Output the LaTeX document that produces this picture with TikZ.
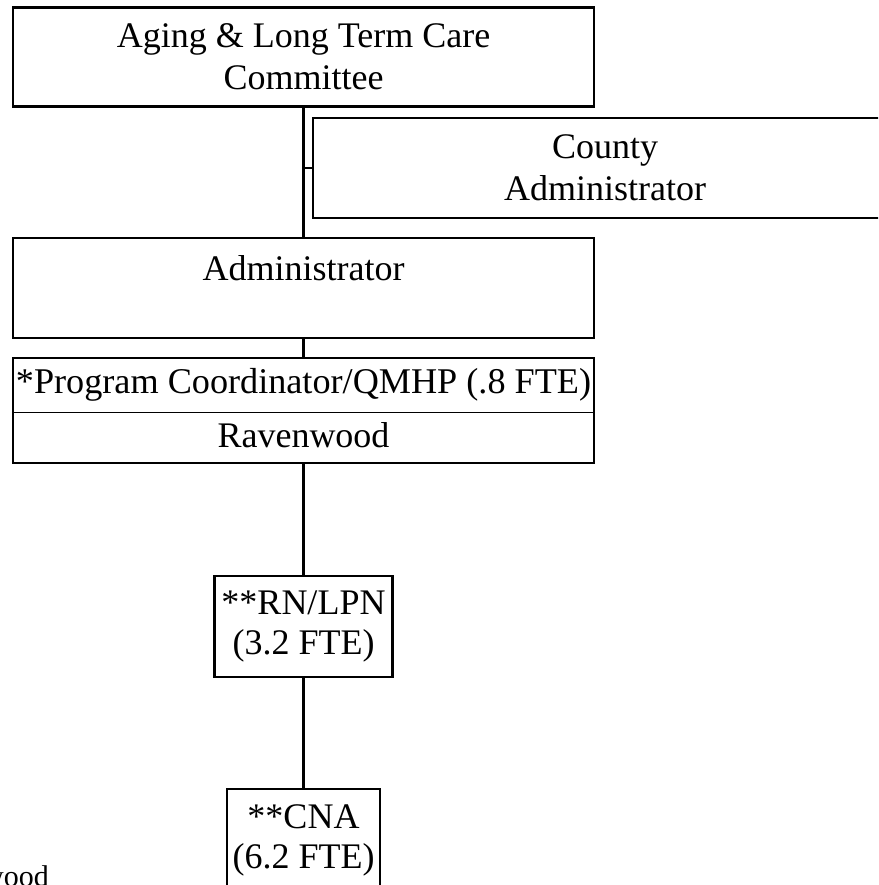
\documentclass[tikz,border=0pt]{standalone}
\usepackage{fontspec}
\setmainfont{Liberation Serif}
\begin{document}
\begin{tikzpicture}[x=1pt, y=-1pt, line width=2.2pt,
    font=\fontsize{36}{42}\selectfont,
    orgbox/.style={draw, rectangle, inner sep=0pt, align=center},
    staffbox/.style={orgbox, font=\fontsize{36}{40}\selectfont}]
      \useasboundingbox (0,0) rectangle (878,885);
      \clip (0,0) rectangle (878,885);

      \node[orgbox, minimum width=581pt, minimum height=99pt] (committee) at (303.5,57) {Aging \& Long Term Care\\Committee};
      \node[orgbox, minimum width=584pt, minimum height=100pt] (county) at (605,168) {County\\Administrator};
      \node[orgbox, minimum width=581pt, minimum height=100pt,
        label={[anchor=north, inner sep=0pt, yshift=-18pt]north:Administrator}] (admin) at (303.5,288) {};

      \node[orgbox, minimum width=581pt, minimum height=105pt] (coord) at (303.5,410.5) {};
      \node[anchor=base, inner sep=0pt, font=\fontsize{36.2}{42}\selectfont] (coordtitle) at (303.5,393) {*Program Coordinator/QMHP (.8 FTE)};
      \node[anchor=base, inner sep=0pt] (site) at (303.5,447) {Ravenwood};
      \coordinate (split) at (303.5,412);
      \draw[line width=1pt] (coord.west |- split) -- (coord.east |- split);

      \node[staffbox, minimum width=178pt, minimum height=101pt] (rn) at (303.5,626.5) {**RN/LPN\\(3.2 FTE)};
      \node[staffbox, minimum width=153pt, minimum height=102pt] (cna) at (303.5,840) {**CNA\\(6.2 FTE)};
      \node[anchor=base east, inner sep=0pt, font=\fontsize{30}{34}\selectfont] (wood) at (50,886) {wood};

      \draw (committee.south) -- (admin.north);
      \draw (county.west) -- (county.west -| committee.south);
      \draw (admin.south) -- (coord.north);
      \draw (coord.south) -- (rn.north);
      \draw (rn.south) -- (cna.north);
    \end{tikzpicture}
\end{document}
